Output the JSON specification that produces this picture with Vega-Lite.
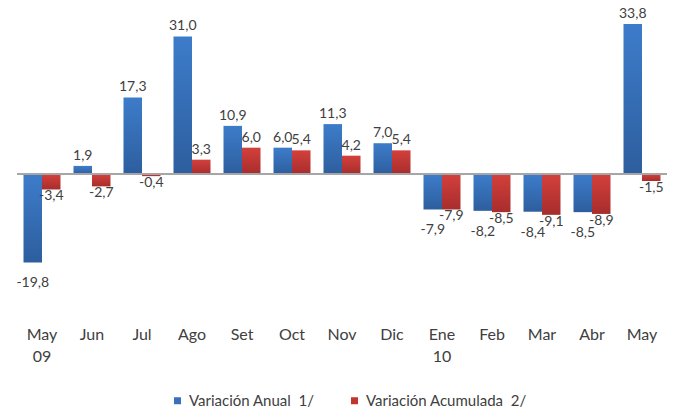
{
  "$schema": "https://vega.github.io/schema/vega-lite/v6.json",
  "width": 650,
  "height": 290,
  "autosize": {"type": "none"},
  "padding": {"left": 17, "top": 0, "right": 6, "bottom": 121},
  "background": "white",
  "config": {
    "view": {"stroke": null},
    "font": "Lato",
    "locale": {"number": {"decimal": ",", "thousands": ".", "grouping": [3], "currency": ["", ""], "minus": "-"}}
  },
  "data": {
    "values": [
      {"mes": "May 09", "serie": "Variación Anual\u00a0 1/", "valor": -19.8},
      {"mes": "May 09", "serie": "Variación Acumulada\u00a0 2/", "valor": -3.4},
      {"mes": "Jun", "serie": "Variación Anual\u00a0 1/", "valor": 1.9},
      {"mes": "Jun", "serie": "Variación Acumulada\u00a0 2/", "valor": -2.7},
      {"mes": "Jul", "serie": "Variación Anual\u00a0 1/", "valor": 17.3},
      {"mes": "Jul", "serie": "Variación Acumulada\u00a0 2/", "valor": -0.4},
      {"mes": "Ago", "serie": "Variación Anual\u00a0 1/", "valor": 31.0},
      {"mes": "Ago", "serie": "Variación Acumulada\u00a0 2/", "valor": 3.3},
      {"mes": "Set", "serie": "Variación Anual\u00a0 1/", "valor": 10.9},
      {"mes": "Set", "serie": "Variación Acumulada\u00a0 2/", "valor": 6.0},
      {"mes": "Oct", "serie": "Variación Anual\u00a0 1/", "valor": 6.0},
      {"mes": "Oct", "serie": "Variación Acumulada\u00a0 2/", "valor": 5.4},
      {"mes": "Nov", "serie": "Variación Anual\u00a0 1/", "valor": 11.3},
      {"mes": "Nov", "serie": "Variación Acumulada\u00a0 2/", "valor": 4.2},
      {"mes": "Dic", "serie": "Variación Anual\u00a0 1/", "valor": 7.0},
      {"mes": "Dic", "serie": "Variación Acumulada\u00a0 2/", "valor": 5.4},
      {"mes": "Ene 10", "serie": "Variación Anual\u00a0 1/", "valor": -7.9},
      {"mes": "Ene 10", "serie": "Variación Acumulada\u00a0 2/", "valor": -7.9},
      {"mes": "Feb", "serie": "Variación Anual\u00a0 1/", "valor": -8.2},
      {"mes": "Feb", "serie": "Variación Acumulada\u00a0 2/", "valor": -8.5},
      {"mes": "Mar", "serie": "Variación Anual\u00a0 1/", "valor": -8.4},
      {"mes": "Mar", "serie": "Variación Acumulada\u00a0 2/", "valor": -9.1},
      {"mes": "Abr", "serie": "Variación Anual\u00a0 1/", "valor": -8.5},
      {"mes": "Abr", "serie": "Variación Acumulada\u00a0 2/", "valor": -8.9},
      {"mes": "May", "serie": "Variación Anual\u00a0 1/", "valor": 33.8},
      {"mes": "May", "serie": "Variación Acumulada\u00a0 2/", "valor": -1.5}
    ]
  },
  "encoding": {
    "x": {
      "field": "mes", "type": "nominal", "sort": null,
      "scale": {"paddingInner": 0.26, "paddingOuter": 0.13},
      "axis": {
        "title": null, "domain": false, "ticks": false, "labelAngle": 0,
        "labelPadding": 36, "labelFontSize": 16, "labelColor": "#404040",
        "labelExpr": "split(datum.label, ' ')", "labelLineHeight": 22
      }
    },
    "xOffset": {"field": "serie", "type": "nominal", "sort": null, "scale": {"paddingInner": 0, "paddingOuter": 0}},
    "y": {"field": "valor", "type": "quantitative", "scale": {"domain": [-26, 39.2], "nice": false, "zero": false}, "axis": null}
  },
  "layer": [
    {
      "transform": [{"filter": "datum.serie == 'Variación Anual\u00a0 1/'"}],
      "mark": {"type": "bar", "color": {"gradient": "linear", "x1": 0, "y1": 0, "x2": 0, "y2": 1, "stops": [{"offset": 0, "color": "#3d7cca"}, {"offset": 1, "color": "#2d5e9e"}]}}
    },
    {
      "transform": [{"filter": "datum.serie == 'Variación Acumulada\u00a0 2/'"}],
      "mark": {"type": "bar", "color": {"gradient": "linear", "x1": 0, "y1": 0, "x2": 0, "y2": 1, "stops": [{"offset": 0, "color": "#d3403c"}, {"offset": 1, "color": "#a72d2c"}]}}
    },
    {
      "mark": {"type": "square", "opacity": 0, "size": 1},
      "encoding": {
        "color": {
          "field": "serie", "type": "nominal", "sort": null,
          "scale": {"range": ["#3870BA", "#C0372F"]},
          "legend": {
            "orient": "none", "legendX": 153, "legendY": 393, "direction": "horizontal",
            "title": null, "symbolType": "square", "symbolSize": 49, "symbolOpacity": 1,
            "symbolStrokeWidth": 0, "labelLimit": 400,
            "labelFontSize": 15, "labelColor": "#404040", "columnPadding": 32
          }
        }
      }
    },
    {
      "mark": {"type": "rule", "color": "#a6a6a6", "strokeWidth": 1.5},
      "encoding": {"y": {"datum": 0}, "x": null, "xOffset": null}
    },
    {
      "transform": [{"filter": "datum.valor >= 0"}],
      "mark": {"type": "text", "baseline": "bottom", "dy": -3, "fontSize": 14, "color": "#404040"},
      "encoding": {"text": {"field": "valor", "type": "quantitative", "format": ".1f"}}
    },
    {
      "transform": [{"filter": "datum.valor < 0 && datum.serie == 'Variación Anual\u00a0 1/'"}],
      "mark": {"type": "text", "baseline": "top", "dy": 14, "fontSize": 14, "color": "#404040"},
      "encoding": {"text": {"field": "valor", "type": "quantitative", "format": ".1f"}}
    },
    {
      "transform": [{"filter": "datum.valor < 0 && datum.serie == 'Variación Acumulada\u00a0 2/'"}],
      "mark": {"type": "text", "baseline": "top", "dy": 0, "fontSize": 14, "color": "#404040"},
      "encoding": {"text": {"field": "valor", "type": "quantitative", "format": ".1f"}}
    }
  ]
}
